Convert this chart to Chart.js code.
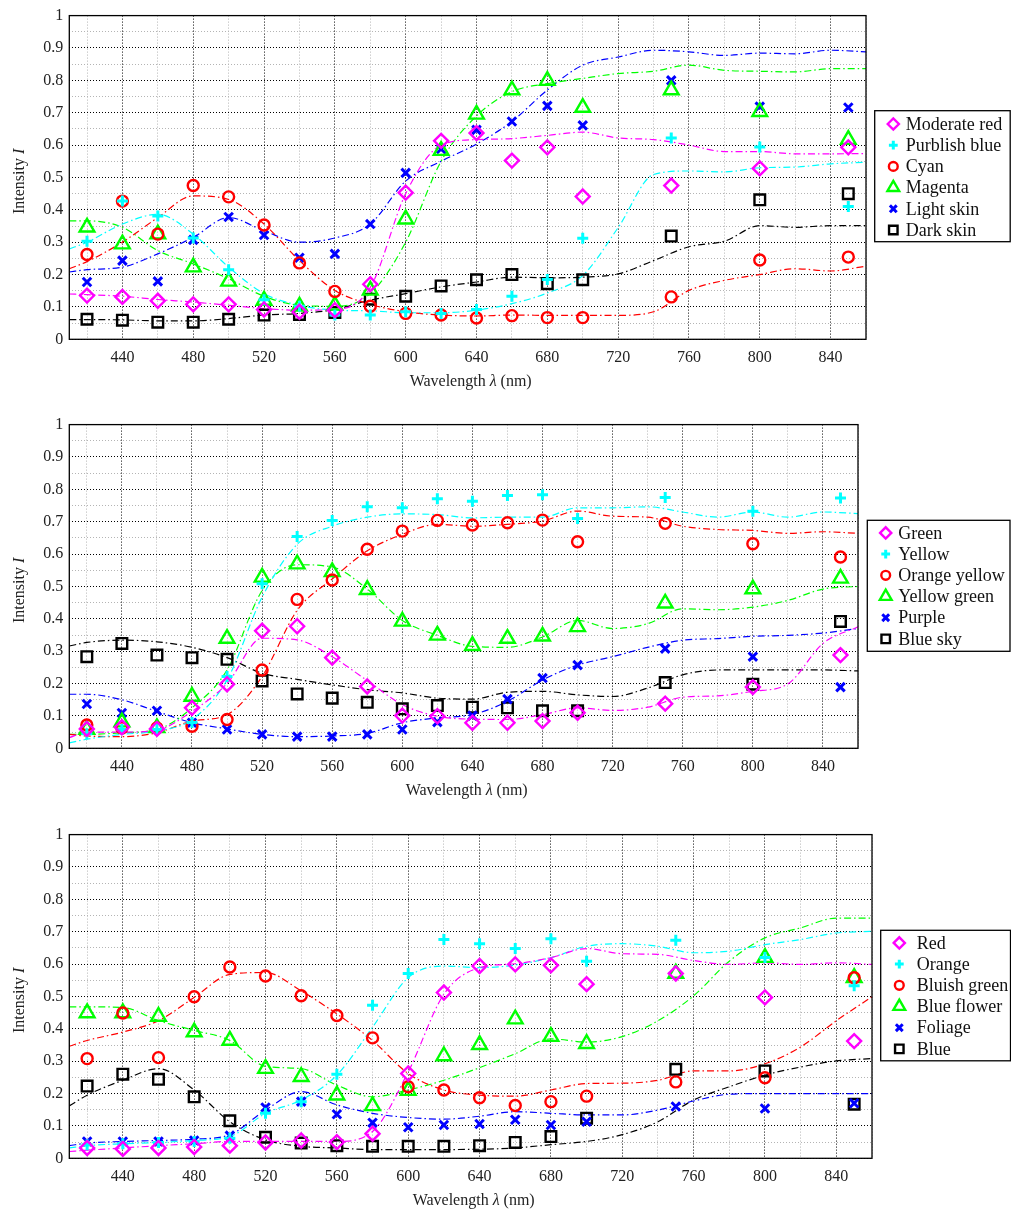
<!DOCTYPE html>
<html>
<head>
<meta charset="utf-8">
<script src="https://cdn.jsdelivr.net/npm/chart.js@4.4.1/dist/chart.umd.min.js"></script>
<style>
  body { margin: 0; background: #fff; overflow: hidden; }
  .panel { position: absolute; left: 0; width: 1011px; height: 392px; }
</style>
</head>
<body>
<div class="panel" style="top:0px"><canvas id="c1"></canvas></div>
<div class="panel" style="top:409.4px"><canvas id="c2"></canvas></div>
<div class="panel" style="top:819.4px"><canvas id="c3"></canvas></div>
<script>
// measured wavelengths (markers) and wavelengths of the fitted dashed curves
const wavelengths = [420, 440, 460, 480, 500, 520, 540, 560, 580, 600, 620, 640, 660, 680, 700, 750, 800, 850];
const fitWavelengths = [410, 420, 440, 460, 480, 500, 520, 540, 560, 580, 600, 620, 640, 660, 680, 700, 720, 740, 760, 780, 800, 820, 840, 860];

const xTickValues = [420, 440, 460, 480, 500, 520, 540, 560, 580, 600, 620, 640, 660, 680, 700, 720, 740, 760, 780, 800, 820, 840, 860];
const xTickLabels = ['', '440', '', '480', '', '520', '', '560', '', '600', '', '640', '', '680', '', '720', '', '760', '', '800', '', '840', ''];
const yTickValues = [0, 0.05, 0.1, 0.15, 0.2, 0.25, 0.3, 0.35, 0.4, 0.45, 0.5, 0.55, 0.6, 0.65, 0.7, 0.75, 0.8, 0.85, 0.9, 0.95, 1];
const yTickLabels = ['0', '', '0.1', '', '0.2', '', '0.3', '', '0.4', '', '0.5', '', '0.6', '', '0.7', '', '0.8', '', '0.9', '', '1'];

// ---- panel 1 ----
const panel1Names = ['Moderate red', 'Purblish blue', 'Cyan', 'Magenta', 'Light skin', 'Dark skin'];
const moderateRed = [0.135, 0.131, 0.119, 0.108, 0.108, 0.092, 0.085, 0.09, 0.17, 0.453, 0.613, 0.637, 0.552, 0.593, 0.441, 0.475, 0.528, 0.593];
const purblishBlue = [0.303, 0.427, 0.381, 0.313, 0.215, 0.122, 0.102, 0.075, 0.075, 0.085, 0.08, 0.092, 0.133, 0.185, 0.312, 0.622, 0.594, 0.41];
const cyanPatch = [0.262, 0.427, 0.325, 0.475, 0.44, 0.353, 0.236, 0.148, 0.102, 0.08, 0.075, 0.066, 0.073, 0.067, 0.067, 0.131, 0.245, 0.254];
const magentaPatch = [0.346, 0.294, 0.325, 0.223, 0.179, 0.12, 0.102, 0.105, 0.151, 0.371, 0.583, 0.695, 0.77, 0.799, 0.716, 0.77, 0.703, 0.617];
const lightSkin = [0.177, 0.243, 0.179, 0.307, 0.378, 0.322, 0.252, 0.264, 0.356, 0.514, 0.588, 0.647, 0.673, 0.721, 0.661, 0.8, 0.719, 0.716];
const darkSkin = [0.062, 0.059, 0.053, 0.053, 0.062, 0.075, 0.077, 0.083, 0.124, 0.133, 0.165, 0.184, 0.2, 0.172, 0.184, 0.319, 0.431, 0.45];

const moderateRedFit = [0.14, 0.138, 0.133, 0.123, 0.115, 0.105, 0.095, 0.09, 0.092, 0.16, 0.45, 0.6, 0.617, 0.62, 0.63, 0.64, 0.622, 0.617, 0.6, 0.58, 0.58, 0.573, 0.573, 0.574];
const purblishBlueFit = [0.279, 0.3, 0.356, 0.386, 0.325, 0.223, 0.141, 0.105, 0.09, 0.088, 0.082, 0.082, 0.09, 0.11, 0.143, 0.197, 0.345, 0.509, 0.52, 0.517, 0.53, 0.532, 0.542, 0.547];
const cyanPatchFit = [0.218, 0.24, 0.3, 0.376, 0.443, 0.432, 0.356, 0.243, 0.151, 0.108, 0.085, 0.075, 0.072, 0.075, 0.074, 0.074, 0.074, 0.085, 0.151, 0.182, 0.2, 0.218, 0.211, 0.226];
const magentaPatchFit = [0.366, 0.366, 0.346, 0.274, 0.233, 0.187, 0.133, 0.105, 0.102, 0.141, 0.3, 0.55, 0.69, 0.765, 0.79, 0.806, 0.821, 0.828, 0.847, 0.831, 0.828, 0.826, 0.836, 0.836];
const lightSkinFit = [0.208, 0.215, 0.223, 0.264, 0.315, 0.376, 0.335, 0.3, 0.313, 0.356, 0.489, 0.55, 0.603, 0.673, 0.77, 0.847, 0.872, 0.893, 0.888, 0.877, 0.884, 0.882, 0.893, 0.888];
const darkSkinFit = [0.061, 0.061, 0.06, 0.057, 0.057, 0.064, 0.075, 0.08, 0.092, 0.121, 0.141, 0.162, 0.177, 0.192, 0.19, 0.192, 0.202, 0.243, 0.286, 0.303, 0.351, 0.346, 0.351, 0.351];

// ---- panel 2 ----
const panel2Names = ['Green', 'Yellow', 'Orange yellow', 'Yellow green', 'Purple', 'Blue sky'];
const greenPatch = [0.06, 0.065, 0.06, 0.125, 0.198, 0.363, 0.377, 0.28, 0.191, 0.101, 0.099, 0.079, 0.079, 0.084, 0.11, 0.138, 0.189, 0.288];
const yellowPatch = [0.045, 0.058, 0.058, 0.08, 0.222, 0.508, 0.654, 0.704, 0.746, 0.743, 0.771, 0.763, 0.781, 0.783, 0.71, 0.775, 0.732, 0.773];
const orangeYellow = [0.072, 0.063, 0.063, 0.068, 0.089, 0.242, 0.46, 0.52, 0.615, 0.671, 0.704, 0.69, 0.697, 0.705, 0.638, 0.695, 0.632, 0.591];
const yellowGreen = [0.058, 0.081, 0.063, 0.16, 0.339, 0.528, 0.569, 0.545, 0.49, 0.392, 0.349, 0.317, 0.339, 0.346, 0.375, 0.448, 0.492, 0.525];
const purplePatch = [0.137, 0.109, 0.116, 0.079, 0.058, 0.043, 0.036, 0.036, 0.043, 0.058, 0.081, 0.101, 0.152, 0.217, 0.257, 0.308, 0.283, 0.189];
const blueSky = [0.283, 0.324, 0.288, 0.28, 0.275, 0.208, 0.168, 0.155, 0.142, 0.122, 0.132, 0.127, 0.125, 0.116, 0.116, 0.203, 0.198, 0.392];

const greenPatchFit = [0.033, 0.05, 0.05, 0.056, 0.114, 0.2, 0.34, 0.335, 0.283, 0.209, 0.135, 0.099, 0.09, 0.089, 0.104, 0.125, 0.117, 0.127, 0.158, 0.162, 0.176, 0.199, 0.324, 0.375];
const yellowPatchFit = [0.017, 0.028, 0.043, 0.053, 0.089, 0.211, 0.467, 0.63, 0.686, 0.714, 0.724, 0.722, 0.712, 0.714, 0.714, 0.743, 0.743, 0.746, 0.73, 0.714, 0.73, 0.714, 0.73, 0.725];
const orangeYellowFit = [0.043, 0.038, 0.036, 0.048, 0.084, 0.104, 0.222, 0.426, 0.523, 0.61, 0.661, 0.692, 0.686, 0.692, 0.702, 0.733, 0.717, 0.714, 0.686, 0.676, 0.673, 0.664, 0.669, 0.664];
const yellowGreenFit = [0.043, 0.043, 0.048, 0.058, 0.125, 0.242, 0.487, 0.567, 0.56, 0.492, 0.395, 0.349, 0.315, 0.312, 0.344, 0.395, 0.37, 0.385, 0.431, 0.428, 0.436, 0.457, 0.492, 0.5];
const purplePatchFit = [0.167, 0.167, 0.15, 0.114, 0.079, 0.06, 0.043, 0.036, 0.038, 0.046, 0.079, 0.094, 0.104, 0.145, 0.211, 0.257, 0.283, 0.312, 0.334, 0.339, 0.346, 0.349, 0.356, 0.37];
const blueSkyFit = [0.316, 0.327, 0.334, 0.329, 0.312, 0.28, 0.232, 0.213, 0.196, 0.181, 0.171, 0.155, 0.152, 0.173, 0.176, 0.165, 0.16, 0.186, 0.227, 0.242, 0.242, 0.242, 0.242, 0.239];

// ---- panel 3 ----
const panel3Names = ['Red', 'Orange', 'Bluish green', 'Blue flower', 'Foliage', 'Blue'];
const redPatch = [0.032, 0.029, 0.032, 0.035, 0.039, 0.049, 0.055, 0.05, 0.076, 0.262, 0.512, 0.594, 0.599, 0.596, 0.538, 0.571, 0.497, 0.362];
const orangePatch = [0.042, 0.045, 0.049, 0.052, 0.062, 0.139, 0.175, 0.26, 0.473, 0.571, 0.676, 0.663, 0.648, 0.678, 0.609, 0.674, 0.62, 0.533];
const bluishGreen = [0.308, 0.449, 0.311, 0.499, 0.591, 0.563, 0.502, 0.441, 0.372, 0.221, 0.211, 0.187, 0.163, 0.175, 0.192, 0.236, 0.249, 0.558];
const blueFlower = [0.449, 0.449, 0.438, 0.39, 0.364, 0.277, 0.252, 0.195, 0.162, 0.209, 0.316, 0.351, 0.43, 0.376, 0.354, 0.571, 0.62, 0.558];
const foliagePatch = [0.052, 0.052, 0.052, 0.055, 0.07, 0.157, 0.175, 0.136, 0.11, 0.096, 0.103, 0.106, 0.119, 0.103, 0.113, 0.16, 0.154, 0.17];
const bluePatch = [0.223, 0.26, 0.244, 0.19, 0.116, 0.065, 0.047, 0.039, 0.037, 0.037, 0.037, 0.039, 0.049, 0.067, 0.124, 0.275, 0.27, 0.167];

const redPatchFit = [0.021, 0.025, 0.032, 0.039, 0.045, 0.052, 0.052, 0.052, 0.052, 0.083, 0.267, 0.507, 0.589, 0.601, 0.62, 0.648, 0.632, 0.63, 0.611, 0.599, 0.604, 0.599, 0.604, 0.599];
const orangePatchFit = [0.032, 0.039, 0.045, 0.049, 0.055, 0.067, 0.139, 0.18, 0.257, 0.405, 0.558, 0.594, 0.589, 0.597, 0.62, 0.655, 0.663, 0.655, 0.635, 0.64, 0.66, 0.676, 0.696, 0.701];
const bluishGreenFit = [0.346, 0.364, 0.39, 0.425, 0.497, 0.568, 0.574, 0.517, 0.446, 0.364, 0.262, 0.211, 0.195, 0.192, 0.211, 0.231, 0.232, 0.241, 0.27, 0.27, 0.292, 0.344, 0.425, 0.499];
const blueFlowerFit = [0.468, 0.468, 0.466, 0.425, 0.395, 0.364, 0.284, 0.277, 0.226, 0.19, 0.211, 0.241, 0.28, 0.323, 0.369, 0.359, 0.376, 0.425, 0.502, 0.609, 0.681, 0.712, 0.742, 0.742];
const foliagePatchFit = [0.039, 0.047, 0.052, 0.055, 0.059, 0.073, 0.149, 0.206, 0.165, 0.139, 0.126, 0.121, 0.13, 0.144, 0.139, 0.134, 0.134, 0.149, 0.177, 0.198, 0.2, 0.2, 0.2, 0.2];
const bluePatchFit = [0.162, 0.195, 0.241, 0.277, 0.211, 0.113, 0.057, 0.037, 0.032, 0.027, 0.027, 0.027, 0.028, 0.032, 0.042, 0.052, 0.073, 0.113, 0.18, 0.221, 0.257, 0.282, 0.301, 0.308];

// same marker style / colour order in every panel
const seriesColors = ['#ff00ff', '#00ffff', '#ff0000', '#00ff00', '#0000ff', '#000000'];
const seriesStyles = ['rectRot', 'cross', 'circle', 'triangle', 'crossRot', 'rect'];
const seriesRadius = [7, 5.5, 5.5, 8.5, 6, 7.5];
const seriesWidth = [2.4, 3, 2.4, 2.4, 3, 2.4];

const FONT = "'Liberation Serif', 'Times New Roman', serif";

// frame around the plot area
const framePlugin = {
  id: 'frame',
  afterDatasetsDraw(chart) {
    const { ctx, chartArea: a } = chart;
    ctx.save();
    ctx.strokeStyle = '#000';
    ctx.lineWidth = 1.3;
    ctx.strokeRect(a.left, a.top, a.right - a.left, a.bottom - a.top);
    ctx.restore();
  }
};

// draw text made of plain and italic pieces, centered at x,y
function drawPieces(ctx, pieces, x, y, size) {
  let total = 0;
  pieces.forEach(p => {
    ctx.font = (p.italic ? 'italic ' : '') + size + 'px ' + FONT;
    total += ctx.measureText(p.text).width;
  });
  let cx = x - total / 2;
  ctx.textAlign = 'left';
  ctx.textBaseline = 'middle';
  pieces.forEach(p => {
    ctx.font = (p.italic ? 'italic ' : '') + size + 'px ' + FONT;
    ctx.fillText(p.text, cx, y);
    cx += ctx.measureText(p.text).width;
  });
}

const axisTitlePlugin = {
  id: 'axisTitles',
  afterDraw(chart) {
    const { ctx, chartArea: a } = chart;
    ctx.save();
    ctx.fillStyle = '#222';
    drawPieces(ctx, [{ text: 'Wavelength ' }, { text: 'λ', italic: true }, { text: ' (nm)' }],
      (a.left + a.right) / 2 + 3, a.bottom + 42.5, 16);
    ctx.translate(20, (a.top + a.bottom) / 2 + 4);
    ctx.rotate(-Math.PI / 2);
    drawPieces(ctx, [{ text: 'Intensity ' }, { text: 'I', italic: true }], 0, 0, 16);
    ctx.restore();
  }
};

// boxed legend at a fixed spot
const boxLegendPlugin = {
  id: 'boxLegend',
  afterDraw(chart, args, opts) {
    const { ctx } = chart;
    const L = opts.box;
    ctx.save();
    ctx.fillStyle = '#fff';
    ctx.fillRect(L.x, L.y, L.w, L.h);
    ctx.strokeStyle = '#000';
    ctx.lineWidth = 1.3;
    ctx.strokeRect(L.x, L.y, L.w, L.h);
    opts.names.forEach((name, i) => {
      const y = L.ty + i * L.step;
      ctx.strokeStyle = seriesColors[i];
      ctx.fillStyle = 'rgba(0,0,0,0)';
      ctx.lineWidth = seriesWidth[i];
      Chart.helpers.drawPoint(ctx, {
        pointStyle: seriesStyles[i],
        radius: seriesRadius[i] * 0.8,
        rotation: 0,
        borderWidth: seriesWidth[i]
      }, L.mx, y);
      ctx.fillStyle = '#111';
      ctx.font = '18px ' + FONT;
      ctx.textAlign = 'left';
      ctx.textBaseline = 'middle';
      ctx.fillText(name, L.tx, y + 1);
    });
    ctx.restore();
  }
};

function makePanel(id, names, marks, fits, right, box) {
  const datasets = [];
  fits.forEach((vals, i) => {
    datasets.push({
      type: 'line',
      label: names[i] + ' fit',
      data: fitWavelengths.map((x, k) => ({ x: x, y: vals[k] })),
      borderColor: seriesColors[i],
      borderWidth: 1.2,
      borderDash: [7, 3, 1.5, 3],
      pointRadius: 0,
      fill: false,
      cubicInterpolationMode: 'monotone',
      order: 2
    });
  });
  marks.forEach((vals, i) => {
    datasets.push({
      type: 'scatter',
      label: names[i],
      data: wavelengths.map((x, k) => ({ x: x, y: vals[k] })),
      pointStyle: seriesStyles[i],
      pointRadius: seriesRadius[i],
      pointBorderWidth: seriesWidth[i],
      borderColor: seriesColors[i],
      backgroundColor: 'rgba(0,0,0,0)',
      showLine: false,
      order: 1
    });
  });

  const gridColor = (c) => {
    const idx = c.index;
    return (c.scale.axis === 'x' ? xTickLabels[idx] : yTickLabels[idx]) !== '' ? '#000' : '#b4b4b4';
  };

  return new Chart(document.getElementById(id), {
    type: 'scatter',
    data: { datasets: datasets },
    options: {
      responsive: true,
      maintainAspectRatio: false,
      animation: false,
      events: [],
      layout: { padding: { top: 13.3, right: 1011 - right, left: 0, bottom: 0 } },
      scales: {
        x: {
          type: 'linear',
          min: 410,
          max: 860,
          afterBuildTicks: (s) => { s.ticks = xTickValues.map(v => ({ value: v })); },
          afterFit: (s) => { s.height = 392 - 339.3; },
          ticks: {
            autoSkip: false,
            maxRotation: 0,
            padding: 9,
            color: '#222',
            font: { family: FONT, size: 16 },
            callback: (v, i) => xTickLabels[i]
          },
          grid: { color: gridColor, lineWidth: 1, drawTicks: false },
          border: { display: false, dash: [1, 2] }
        },
        y: {
          type: 'linear',
          min: 0,
          max: 1,
          afterBuildTicks: (s) => { s.ticks = yTickValues.map(v => ({ value: v })); },
          afterFit: (s) => { s.width = 69.3; },
          ticks: {
            autoSkip: false,
            padding: 6,
            color: '#222',
            font: { family: FONT, size: 16 },
            callback: (v, i) => yTickLabels[i]
          },
          grid: { color: gridColor, lineWidth: 1, drawTicks: false },
          border: { display: false, dash: [1, 2] }
        }
      },
      plugins: {
        legend: { display: false },
        tooltip: { enabled: false },
        boxLegend: { names: names, box: box }
      }
    },
    plugins: [framePlugin, axisTitlePlugin, boxLegendPlugin]
  });
}

makePanel('c1', panel1Names,
  [moderateRed, purblishBlue, cyanPatch, magentaPatch, lightSkin, darkSkin],
  [moderateRedFit, purblishBlueFit, cyanPatchFit, magentaPatchFit, lightSkinFit, darkSkinFit],
  866, { x: 874.7, y: 110.7, w: 135.5, h: 131, mx: 893.3, tx: 905.7, ty: 124, step: 21.2 });

makePanel('c2', panel2Names,
  [greenPatch, yellowPatch, orangeYellow, yellowGreen, purplePatch, blueSky],
  [greenPatchFit, yellowPatchFit, orangeYellowFit, yellowGreenFit, purplePatchFit, blueSkyFit],
  858, { x: 867.3, y: 111.3, w: 142.7, h: 131, mx: 885.7, tx: 898.3, ty: 123.9, step: 21.2 });

makePanel('c3', panel3Names,
  [redPatch, orangePatch, bluishGreen, blueFlower, foliagePatch, bluePatch],
  [redPatchFit, orangePatchFit, bluishGreenFit, blueFlowerFit, foliagePatchFit, bluePatchFit],
  872, { x: 880.7, y: 111.3, w: 129.8, h: 130.5, mx: 899.3, tx: 916.7, ty: 123.9, step: 21.2 });
</script>
</body>
</html>
